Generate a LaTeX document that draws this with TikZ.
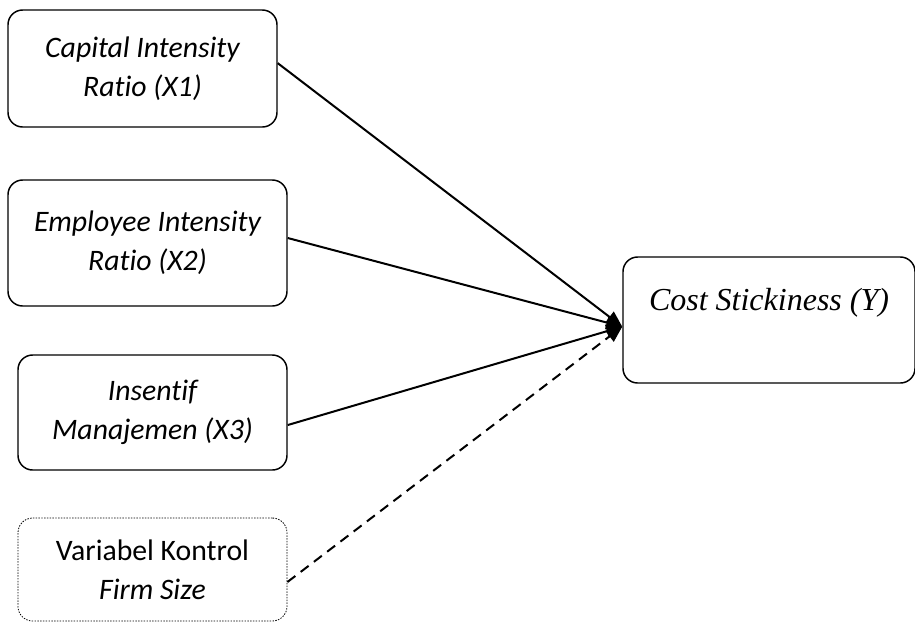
\documentclass[tikz,border=0pt]{standalone}
\usepackage{fontspec}
\setmainfont{Carlito}[Ligatures=CommonOff]
\newfontfamily\timesfont{Liberation Serif}
\usepackage{tikz}
\usetikzlibrary{arrows.meta,calc}

\begin{document}
\begin{tikzpicture}[x=0.75pt,y=-0.75pt,
  varbox/.style={draw,line width=1.1pt,rounded corners=11pt,align=center,
    font=\fontsize{22.3}{29}\selectfont\itshape,inner sep=0pt},
  ctrlbox/.style={varbox,densely dotted,line width=0.6pt,font=\fontsize{22.3}{29}\selectfont},
  link/.style={line width=1.5pt,-{Triangle[length=12pt,width=10pt]}}]
\useasboundingbox (0,0) rectangle (915,622);
\node[varbox,minimum width=201.75pt,minimum height=87.75pt] (X1) at (142.5,68.5) {Capital Intensity\\Ratio (X1)};
\node[varbox,minimum width=209.25pt,minimum height=94.5pt] (X2) at (147.5,243) {Employee Intensity\\Ratio (X2)};
\node[varbox,minimum width=201.75pt,minimum height=86.25pt] (X3) at (152.5,412.5) {Insentif\\Manajemen (X3)};
\node[ctrlbox,minimum width=201.75pt,minimum height=77.25pt] (ctrl) at (152.5,569.5) {Variabel Kontrol\\\textit{Firm Size}};
\node[varbox,font=\fontsize{24}{29}\timesfont\itshape,minimum width=219pt,text height=39.9pt,text depth=54.6pt] (Y) at (769,320) {Cost Stickiness (Y)};
\coordinate (tip) at ([yshift=-5pt]Y.west);
% panah ke Y
\draw[link] ([yshift=4pt]X1.east) -- (tip);
\draw[link] ([yshift=3.75pt]X2.east) -- (tip);
\draw[link] ([yshift=-9.4pt]X3.east) -- (tip);
\draw[link,dash pattern=on 7.5pt off 5pt] ([yshift=-9.4pt]ctrl.east) -- (tip);
\end{tikzpicture}
\end{document}
